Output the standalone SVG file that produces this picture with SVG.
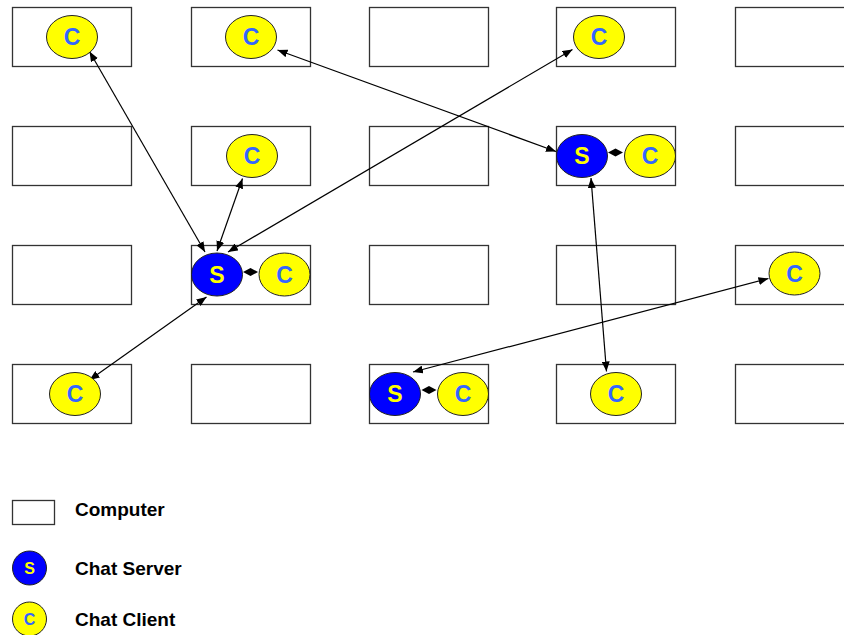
<svg xmlns="http://www.w3.org/2000/svg" width="844" height="635" viewBox="0 0 844 635">
<style>
.pc{fill:#fff;stroke:#333;stroke-width:1.3}
.s{fill:#0000ff;stroke:#222;stroke-width:1}
.c{fill:#ffff00;stroke:#222;stroke-width:1}
.st{font-family:"Liberation Sans",Arial,sans-serif;font-weight:bold;font-size:23px;fill:#ffff00;text-anchor:middle}
.ct{font-family:"Liberation Sans",Arial,sans-serif;font-weight:bold;font-size:23px;fill:#3366ff;text-anchor:middle}
.lst{font-size:16px}
.lg{font-family:"Liberation Sans",Arial,sans-serif;font-weight:bold;font-size:19px;fill:#000}
.ln{stroke:#000;stroke-width:1.2;fill:none;marker-start:url(#ah);marker-end:url(#ah)}
.dm{fill:#000}
</style>
<defs>
<marker id="ah" viewBox="0 0 10 8" refX="10" refY="4" markerWidth="10" markerHeight="8" markerUnits="userSpaceOnUse" orient="auto-start-reverse">
<path d="M0,0 L10,4 L0,8 Z" fill="#000"/>
</marker>
</defs>
<g id="computers">
<rect class="pc" x="12.5" y="7.5" width="119" height="59"/>
<rect class="pc" x="191.5" y="7.5" width="119" height="59"/>
<rect class="pc" x="369.5" y="7.5" width="119" height="59"/>
<rect class="pc" x="556.5" y="7.5" width="119" height="59"/>
<rect class="pc" x="735.5" y="7.5" width="119" height="59"/>
<rect class="pc" x="12.5" y="126.5" width="119" height="59"/>
<rect class="pc" x="191.5" y="126.5" width="119" height="59"/>
<rect class="pc" x="369.5" y="126.5" width="119" height="59"/>
<rect class="pc" x="556.5" y="126.5" width="119" height="59"/>
<rect class="pc" x="735.5" y="126.5" width="119" height="59"/>
<rect class="pc" x="12.5" y="245.5" width="119" height="59"/>
<rect class="pc" x="191.5" y="245.5" width="119" height="59"/>
<rect class="pc" x="369.5" y="245.5" width="119" height="59"/>
<rect class="pc" x="556.5" y="245.5" width="119" height="59"/>
<rect class="pc" x="735.5" y="245.5" width="119" height="59"/>
<rect class="pc" x="12.5" y="364.5" width="119" height="59"/>
<rect class="pc" x="191.5" y="364.5" width="119" height="59"/>
<rect class="pc" x="369.5" y="364.5" width="119" height="59"/>
<rect class="pc" x="556.5" y="364.5" width="119" height="59"/>
<rect class="pc" x="735.5" y="364.5" width="119" height="59"/>
</g>
<g id="connectors">
<line class="ln" x1="89.5" y1="51.5" x2="205" y2="252"/>
<line class="ln" x1="277.5" y1="50" x2="556" y2="151.5"/>
<line class="ln" x1="572.5" y1="49.5" x2="228" y2="252"/>
<line class="ln" x1="242.5" y1="178.5" x2="217" y2="251"/>
<line class="ln" x1="89.5" y1="380" x2="206.5" y2="297"/>
<line class="ln" x1="591" y1="178" x2="606.5" y2="371.5"/>
<line class="ln" x1="768.5" y1="278.5" x2="413" y2="372"/>
<path class="dm" d="M243,272 L250.5,268 L258,272 L250.5,276 Z"/>
<path class="dm" d="M608,152.5 L615.5,148.5 L623,152.5 L615.5,156.5 Z"/>
<path class="dm" d="M421.5,390 L429,386 L436.5,390 L429,394 Z"/>
</g>
<g id="c1"><ellipse class="c" cx="72" cy="37" rx="25.5" ry="21.5"/><text class="ct" x="72" y="45">C</text></g>
<g id="c2"><ellipse class="c" cx="251" cy="37" rx="25.5" ry="21.5"/><text class="ct" x="251" y="45">C</text></g>
<g id="c3"><ellipse class="c" cx="599" cy="37" rx="25.5" ry="21.5"/><text class="ct" x="599" y="45">C</text></g>
<g id="c4"><ellipse class="c" cx="252" cy="156" rx="25.5" ry="21.5"/><text class="ct" x="252" y="164">C</text></g>
<g id="s1"><ellipse class="s" cx="582" cy="156" rx="25.5" ry="21.5"/><text class="st" x="582" y="164">S</text></g>
<g id="c5"><ellipse class="c" cx="650" cy="156" rx="25.5" ry="21.5"/><text class="ct" x="650" y="164">C</text></g>
<g id="s2"><ellipse class="s" cx="217" cy="274.5" rx="25.5" ry="21.5"/><text class="st" x="217" y="282.5">S</text></g>
<g id="c6"><ellipse class="c" cx="284.5" cy="274.5" rx="25.5" ry="21.5"/><text class="ct" x="284.5" y="282.5">C</text></g>
<g id="c7"><ellipse class="c" cx="794.5" cy="273.5" rx="25.5" ry="21.5"/><text class="ct" x="794.5" y="281.5">C</text></g>
<g id="c8"><ellipse class="c" cx="75" cy="394" rx="25.5" ry="21.5"/><text class="ct" x="75" y="402">C</text></g>
<g id="s3"><ellipse class="s" cx="395" cy="394" rx="25.5" ry="21.5"/><text class="st" x="395" y="402">S</text></g>
<g id="c9"><ellipse class="c" cx="463" cy="394" rx="25.5" ry="21.5"/><text class="ct" x="463" y="402">C</text></g>
<g id="c10"><ellipse class="c" cx="616" cy="394" rx="25.5" ry="21.5"/><text class="ct" x="616" y="402">C</text></g>
<g id="legend">
<rect class="pc" x="12.5" y="500.5" width="42" height="24"/>
<text class="lg" x="75" y="516">Computer</text>
<circle class="s" cx="29.5" cy="568" r="17"/>
<text class="st lst" x="29.5" y="574">S</text>
<text class="lg" x="75" y="575">Chat Server</text>
<circle class="c" cx="29.5" cy="619" r="17"/>
<text class="ct lst" x="29.5" y="625">C</text>
<text class="lg" x="75" y="626">Chat Client</text>
</g>
</svg>
